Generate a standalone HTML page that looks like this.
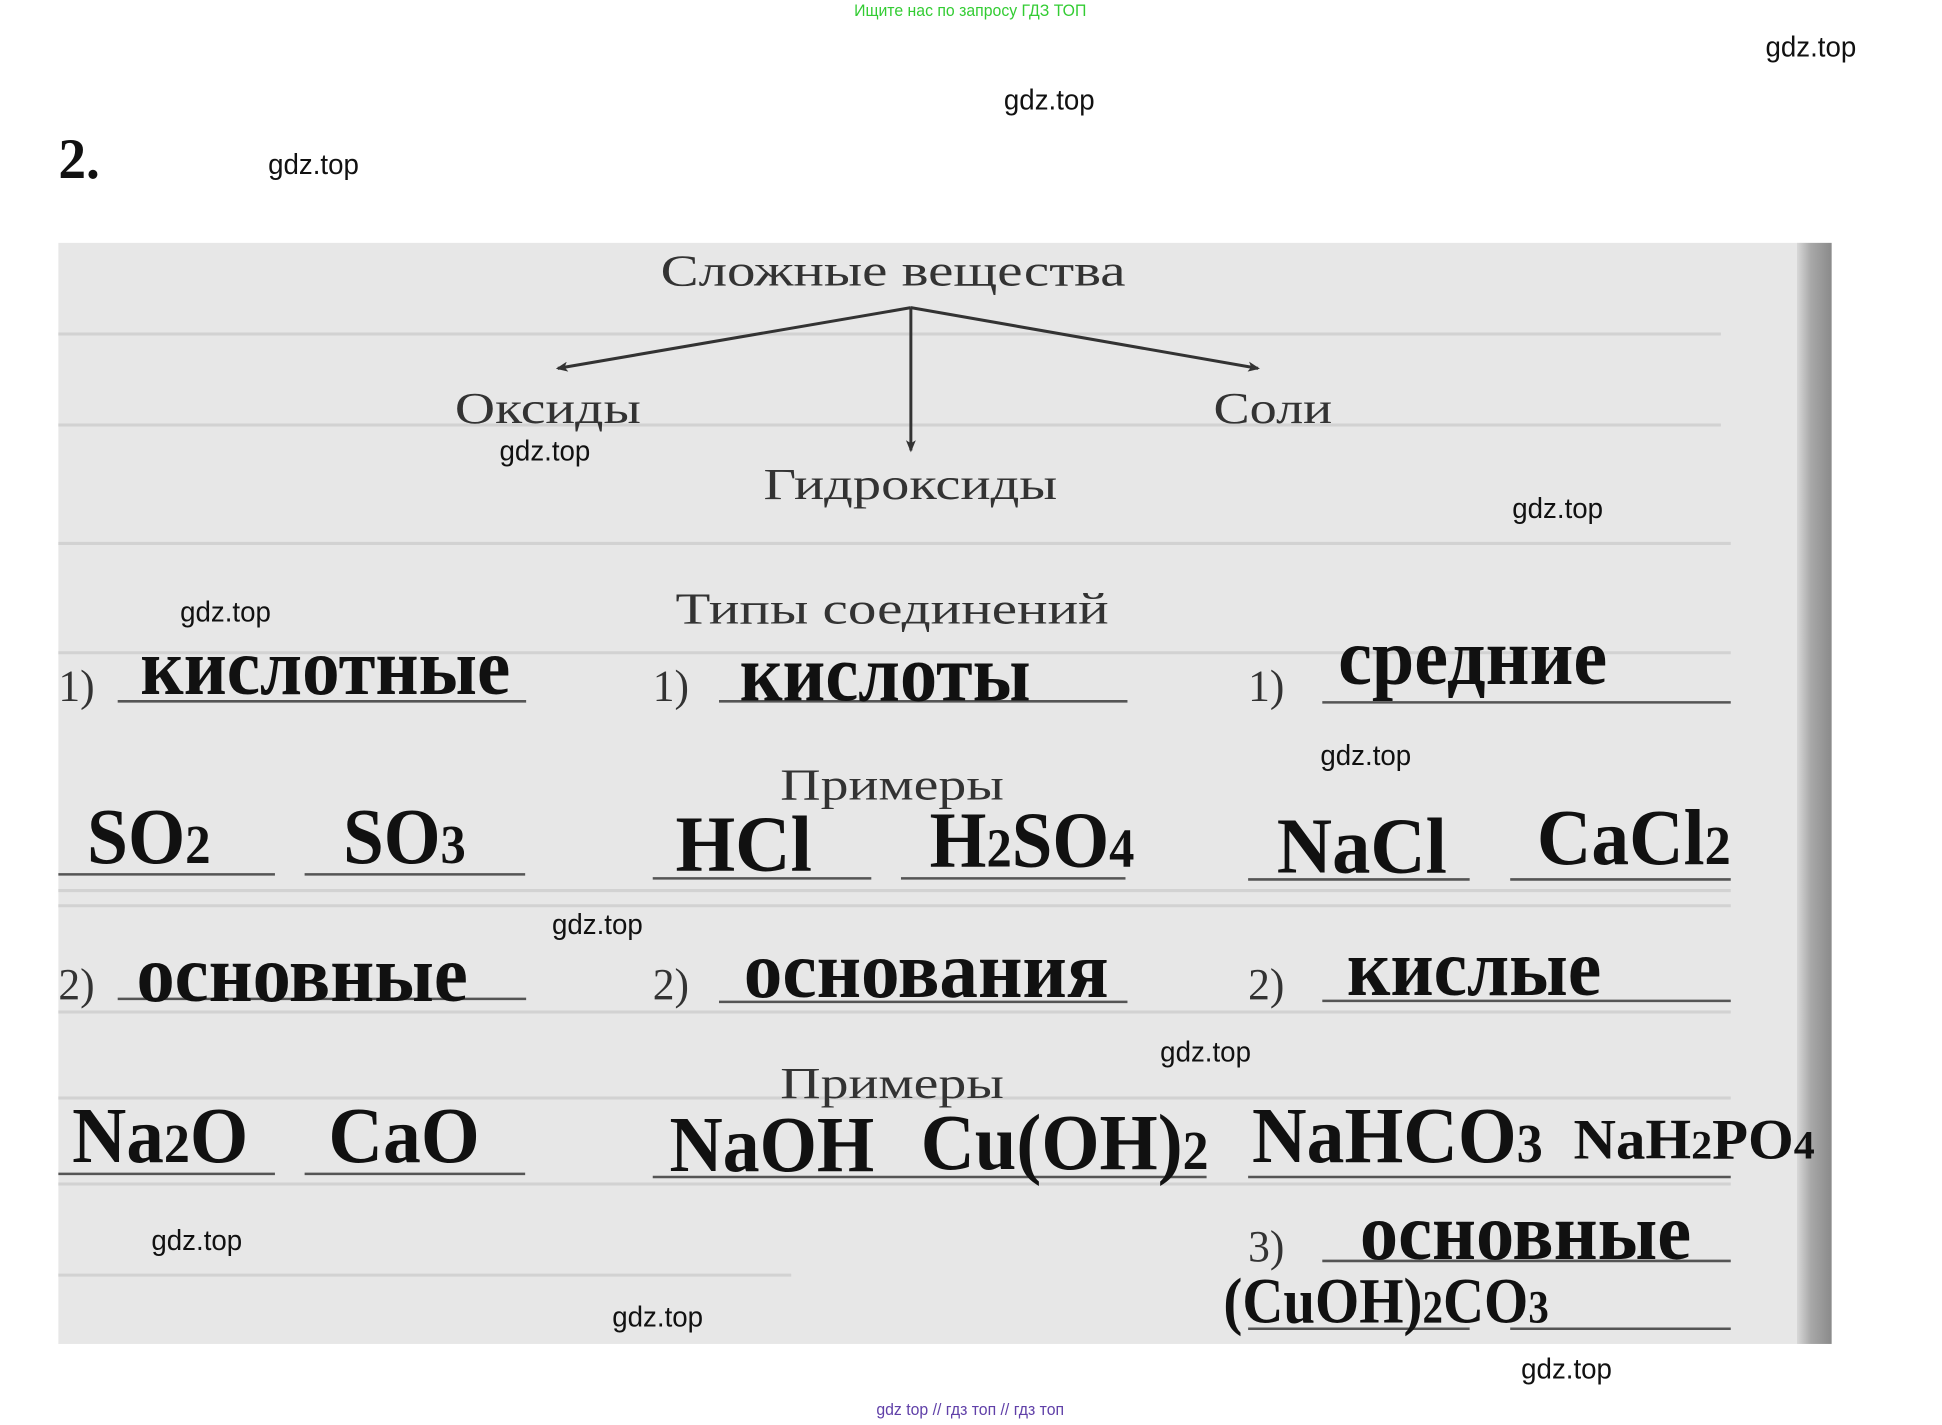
<!DOCTYPE html>
<html><head><meta charset="utf-8"><style>
html,body{margin:0;padding:0;background:#fff;width:1942px;height:1425px;overflow:hidden}
svg{display:block}
.s{font-family:"Liberation Serif",serif}
.g{font-family:"Liberation Sans",sans-serif;font-size:28px;fill:#111}
</style></head><body>
<svg width="1942" height="1425" viewBox="0 0 1942 1425" xmlns="http://www.w3.org/2000/svg">
<defs>
<linearGradient id="rs" x1="0" x2="1"><stop offset="0" stop-color="#d8d8d8"/><stop offset="0.4" stop-color="#a8a8a8"/><stop offset="1" stop-color="#8a8a8a"/></linearGradient>
<marker id="ah" markerWidth="12" markerHeight="10" refX="10" refY="5" orient="auto" markerUnits="userSpaceOnUse"><path d="M0,0 L12,5 L0,10 L3,5 z" fill="#333"/></marker>
</defs>
<g transform="scale(0.989,1.012)">
<text x="981" y="16" text-anchor="middle" font-family="Liberation Sans,sans-serif" font-size="16" fill="#33cc33">Ищите нас по запросу ГДЗ ТОП</text>
<rect x="59" y="240" width="1793" height="1088" fill="#e7e7e7"/>
<rect x="1817" y="240" width="35" height="1088" fill="url(#rs)"/>
<g stroke="#d2d2d2" stroke-width="3" fill="none">
<line x1="59" y1="330" x2="1740" y2="330"/><line x1="59" y1="420" x2="1740" y2="420"/>
<line x1="59" y1="537" x2="1750" y2="537"/><line x1="59" y1="645" x2="1750" y2="645"/>
<line x1="59" y1="880" x2="1750" y2="880"/><line x1="59" y1="895" x2="1750" y2="895"/>
<line x1="59" y1="1000" x2="1750" y2="1000"/><line x1="59" y1="1085" x2="1750" y2="1085"/>
<line x1="59" y1="1170" x2="1750" y2="1170"/><line x1="59" y1="1260" x2="800" y2="1260"/>
</g>
<text x="59" y="176" class="s" font-size="56" font-weight="bold" fill="#111">2.</text>
<g class="s" fill="#333" font-size="44">
<text x="668" y="282" textLength="470" lengthAdjust="spacingAndGlyphs">Сложные вещества</text>
<text x="460" y="418" textLength="188" lengthAdjust="spacingAndGlyphs">Оксиды</text>
<text x="1227" y="418" textLength="120" lengthAdjust="spacingAndGlyphs">Соли</text>
<text x="772" y="493" textLength="297" lengthAdjust="spacingAndGlyphs">Гидроксиды</text>
<text x="683" y="616" textLength="438" lengthAdjust="spacingAndGlyphs">Типы соединений</text>
<text x="789" y="790" textLength="226" lengthAdjust="spacingAndGlyphs">Примеры</text>
<text x="789" y="1085" textLength="226" lengthAdjust="spacingAndGlyphs">Примеры</text>
<text x="59" y="692">1)</text><text x="660" y="692">1)</text><text x="1262" y="692">1)</text>
<text x="59" y="987">2)</text><text x="660" y="987">2)</text><text x="1262" y="987">2)</text>
<text x="1262" y="1246">3)</text>
</g>
<g stroke="#333" stroke-width="3" fill="none">
<line x1="921" y1="304" x2="564" y2="364" marker-end="url(#ah)"/>
<line x1="921" y1="304" x2="921" y2="445" marker-end="url(#ah)"/>
<line x1="921" y1="304" x2="1272" y2="364" marker-end="url(#ah)"/>
</g>
<g stroke="#555" stroke-width="2.5">
<line x1="119" y1="693" x2="532" y2="693"/><line x1="727" y1="693" x2="1140" y2="693"/><line x1="1337" y1="694" x2="1750" y2="694"/>
<line x1="59" y1="864" x2="278" y2="864"/><line x1="308" y1="864" x2="531" y2="864"/>
<line x1="660" y1="868" x2="881" y2="868"/><line x1="911" y1="868" x2="1138" y2="868"/>
<line x1="1262" y1="869" x2="1486" y2="869"/><line x1="1527" y1="869" x2="1750" y2="869"/>
<line x1="119" y1="987" x2="532" y2="987"/><line x1="727" y1="990" x2="1140" y2="990"/><line x1="1337" y1="989" x2="1750" y2="989"/>
<line x1="59" y1="1160" x2="278" y2="1160"/><line x1="308" y1="1160" x2="531" y2="1160"/>
<line x1="660" y1="1163" x2="1220" y2="1163"/><line x1="1262" y1="1163" x2="1750" y2="1163"/>
<line x1="1337" y1="1246" x2="1750" y2="1246"/>
<line x1="1262" y1="1313" x2="1486" y2="1313"/><line x1="1527" y1="1313" x2="1750" y2="1313"/>
</g>
<g class="s" fill="#111" font-weight="bold">
<g font-size="80">
<text x="142" y="686" textLength="374" lengthAdjust="spacingAndGlyphs">кислотные</text>
<text x="748" y="692" textLength="294" lengthAdjust="spacingAndGlyphs">кислоты</text>
<text x="1353" y="676" textLength="272" lengthAdjust="spacingAndGlyphs">средние</text>
<text x="138" y="989" textLength="335" lengthAdjust="spacingAndGlyphs">основные</text>
<text x="752" y="985" textLength="369" lengthAdjust="spacingAndGlyphs">основания</text>
<text x="1362" y="983" textLength="257" lengthAdjust="spacingAndGlyphs">кислые</text>
<text x="1375" y="1244" textLength="335" lengthAdjust="spacingAndGlyphs">основные</text>
</g>
<g font-size="78">
<text x="88" y="853" textLength="125" lengthAdjust="spacingAndGlyphs">SO<tspan font-size="54">2</tspan></text>
<text x="347" y="853" textLength="124" lengthAdjust="spacingAndGlyphs">SO<tspan font-size="54">3</tspan></text>
<text x="683" y="860" textLength="138" lengthAdjust="spacingAndGlyphs">HCl</text>
<text x="940" y="856" textLength="207" lengthAdjust="spacingAndGlyphs">H<tspan font-size="54">2</tspan>SO<tspan font-size="54">4</tspan></text>
<text x="1291" y="862" textLength="172" lengthAdjust="spacingAndGlyphs">NaCl</text>
<text x="1554" y="854" textLength="196" lengthAdjust="spacingAndGlyphs">CaCl<tspan font-size="54">2</tspan></text>
<text x="73" y="1148" textLength="178" lengthAdjust="spacingAndGlyphs">Na<tspan font-size="54">2</tspan>O</text>
<text x="332" y="1148" textLength="153" lengthAdjust="spacingAndGlyphs">CaO</text>
<text x="677" y="1157" textLength="207" lengthAdjust="spacingAndGlyphs">NaOH</text>
<text x="931" y="1155" textLength="291" lengthAdjust="spacingAndGlyphs">Cu(OH)<tspan font-size="54">2</tspan></text>
<text x="1266" y="1148" textLength="294" lengthAdjust="spacingAndGlyphs">NaHCO<tspan font-size="54">3</tspan></text>
</g>
<text x="1591" y="1145" font-size="56" textLength="244" lengthAdjust="spacingAndGlyphs">NaH<tspan font-size="40">2</tspan>PO<tspan font-size="40">4</tspan></text>
<text x="1237" y="1307" font-size="64" textLength="329" lengthAdjust="spacingAndGlyphs">(CuOH)<tspan font-size="46">2</tspan>CO<tspan font-size="46">3</tspan></text>
</g>
<g class="g" text-anchor="middle">
<text x="1831" y="56">gdz.top</text>
<text x="1061" y="108">gdz.top</text>
<text x="317" y="172">gdz.top</text>
<text x="551" y="455">gdz.top</text>
<text x="1575" y="512">gdz.top</text>
<text x="228" y="614">gdz.top</text>
<text x="1381" y="756">gdz.top</text>
<text x="604" y="923">gdz.top</text>
<text x="1219" y="1049">gdz.top</text>
<text x="199" y="1235">gdz.top</text>
<text x="665" y="1311">gdz.top</text>
<text x="1584" y="1362">gdz.top</text>
</g>
<text x="981" y="1398" text-anchor="middle" font-family="Liberation Sans,sans-serif" font-size="16" fill="#6040a8">gdz top  //  гдз топ  //  гдз топ</text>
</g>
</svg>
</body></html>
